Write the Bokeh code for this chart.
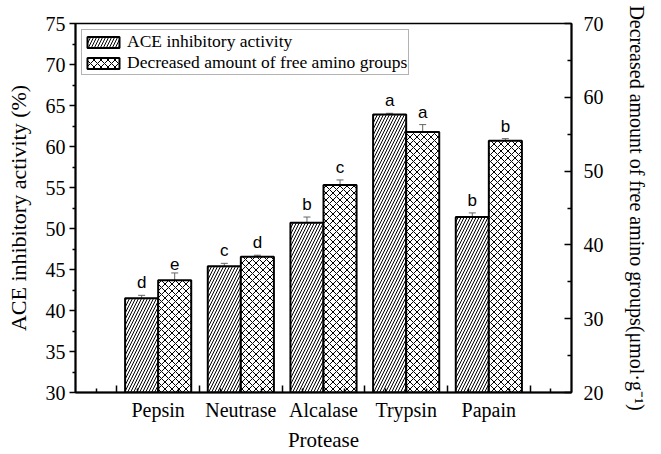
from bokeh.plotting import figure
from bokeh.models import (Range1d, LinearAxis, FixedTicker, Whisker, ColumnDataSource,
                          Legend, LegendItem, TeeHead)
from bokeh.embed import file_html
from bokeh.resources import INLINE
from bokeh.core.properties import value

# ---- data ----
categories = ["Pepsin", "Neutrase", "Alcalase", "Trypsin", "Papain"]
ace = [41.5, 45.4, 50.7, 63.9, 51.4]
ace_err = [0.35, 0.35, 0.7, 0.15, 0.5]
ace_sig = ["d", "c", "b", "a", "b"]
amino = [35.2, 38.4, 48.1, 55.3, 54.1]
amino_err = [1.0, 0.2, 0.7, 1.0, 0.3]
amino_sig = ["e", "d", "c", "a", "b"]

left_ticks = [30, 35, 40, 45, 50, 55, 60, 65, 70, 75]
left_minor = [32.5, 37.5, 42.5, 47.5, 52.5, 57.5, 62.5, 67.5, 72.5]
right_ticks = [20, 30, 40, 50, 60, 70]
right_minor = [25, 35, 45, 55, 65]
x_major = [0.5, 1, 1.5, 2, 2.5, 3, 3.5, 4, 4.5, 5, 5.5]
x_minor = [0.25, 0.75, 1.25, 1.75, 2.25, 2.75, 3.25, 3.75, 4.25, 4.75, 5.25, 5.75]

BAR_W = 0.4
SERIF = "Liberation Serif"
SANS = "Liberation Sans"

pos = [i + 1 for i in range(len(categories))]
src_a = ColumnDataSource(dict(
    x=[p - BAR_W / 2 for p in pos], top=ace,
    upper=[v + e for v, e in zip(ace, ace_err)], sig=ace_sig))
src_b = ColumnDataSource(dict(
    x=[p + BAR_W / 2 for p in pos], top=amino,
    upper=[v + e for v, e in zip(amino, amino_err)], sig=amino_sig))

p = figure(width=661, height=454, output_backend="svg", toolbar_location=None,
           x_range=Range1d(0, 6), y_range=Range1d(30, 75),
           min_border_left=75, min_border_right=90, min_border_top=23, min_border_bottom=62)
p.extra_y_ranges = {"right": Range1d(20, 70)}
p.grid.visible = False
p.outline_line_color = "black"
p.outline_line_width = 1.5
p.outline_line_alpha = 1.0

r1 = p.vbar(x="x", top="top", bottom=30, width=BAR_W, source=src_a,
            fill_color="white", line_color="black", line_width=2,
            hatch_pattern="/", hatch_color="black", hatch_scale=6, hatch_weight=1)
r2 = p.vbar(x="x", top="top", bottom=20, width=BAR_W, source=src_b, y_range_name="right",
            fill_color="white", line_color="black", line_width=2,
            hatch_pattern="x", hatch_color="black", hatch_scale=7, hatch_weight=1)

err_col = "#666666"
wa = Whisker(source=src_a, base="x", lower="top", upper="upper", line_color=err_col,
             line_width=1, upper_head=TeeHead(size=7, line_color=err_col, line_width=1),
             lower_head=None)
wb = Whisker(source=src_b, base="x", lower="top", upper="upper", line_color=err_col,
             line_width=1, upper_head=TeeHead(size=7, line_color=err_col, line_width=1),
             lower_head=None, y_range_name="right")
p.add_layout(wa)
p.add_layout(wb)

p.text(x="x", y="upper", text="sig", source=src_a, text_align="center",
       text_baseline="bottom", y_offset=-3, text_font=value(SANS),
       text_font_size="17px", text_color="black")
p.text(x="x", y="upper", text="sig", source=src_b, y_range_name="right",
       text_align="center", text_baseline="bottom", y_offset=-3, text_font=value(SANS),
       text_font_size="17px", text_color="black")

# ---- x axis ----
xa = p.xaxis[0]
xa.ticker = FixedTicker(ticks=x_major, minor_ticks=x_minor)
overrides = {t: "" for t in x_major}
for i, c in enumerate(categories):
    overrides[i + 1] = c
xa.major_label_overrides = overrides
xa.major_tick_in = 7
xa.major_tick_out = 0
xa.minor_tick_in = 4
xa.minor_tick_out = 0
xa.axis_line_width = 2
xa.major_tick_line_width = 1.5
xa.minor_tick_line_width = 1.5
xa.major_label_standoff = 6
xa.major_label_text_font = SERIF
xa.major_label_text_font_size = "20px"
xa.major_label_text_color = "black"
xa.axis_label = "Protease"
xa.axis_label_standoff = 4
xa.axis_label_text_font = SERIF
xa.axis_label_text_font_size = "21px"
xa.axis_label_text_font_style = "normal"
xa.axis_label_text_color = "black"

# ---- left axis ----
ya = p.yaxis[0]
ya.ticker = FixedTicker(ticks=left_ticks, minor_ticks=left_minor)
ya.major_tick_in = 0
ya.major_tick_out = 6
ya.minor_tick_in = 0
ya.minor_tick_out = 3
ya.axis_line_width = 2
ya.major_tick_line_width = 1.5
ya.minor_tick_line_width = 1.5
ya.major_label_standoff = 4
ya.major_label_text_font = SERIF
ya.major_label_text_font_size = "20px"
ya.major_label_text_color = "black"
ya.axis_label = "ACE inhibitory activity (%)"
ya.axis_label_standoff = 12
ya.axis_label_text_font = SERIF
ya.axis_label_text_font_size = "22px"
ya.axis_label_text_font_style = "normal"
ya.axis_label_text_color = "black"

# ---- right axis ----
ra = LinearAxis(y_range_name="right", ticker=FixedTicker(ticks=right_ticks, minor_ticks=right_minor))
ra.major_tick_in = 7
ra.major_tick_out = 0
ra.minor_tick_in = 4
ra.minor_tick_out = 0
ra.axis_line_width = 2
ra.major_tick_line_width = 1.5
ra.minor_tick_line_width = 1.5
ra.major_label_standoff = 12
ra.major_label_text_font = SERIF
ra.major_label_text_font_size = "20px"
ra.major_label_text_color = "black"
ra.axis_label = "Decreased amount of free amino groups(\u03bcmol\u00b7g\u207b\u00b9)"
ra.axis_label_standoff = 19
ra.axis_label_text_font = SERIF
ra.axis_label_text_font_size = "20px"
ra.axis_label_text_font_style = "normal"
ra.axis_label_text_color = "black"
p.add_layout(ra, "right")

# ---- legend ----
legend = Legend(items=[LegendItem(label="ACE inhibitory activity", renderers=[r1]),
                       LegendItem(label="Decreased amount of free amino groups", renderers=[r2])],
                location="top_left", margin=6, padding=1, spacing=0,
                glyph_width=40, glyph_height=14, label_standoff=4,
                label_text_font=SERIF, label_text_font_size="17.5px",
                label_text_color="black", label_height=16,
                border_line_color="#666666", border_line_width=1,
                background_fill_color="white", background_fill_alpha=1.0)
p.add_layout(legend)

open("out.html", "w").write(file_html(p, INLINE))
